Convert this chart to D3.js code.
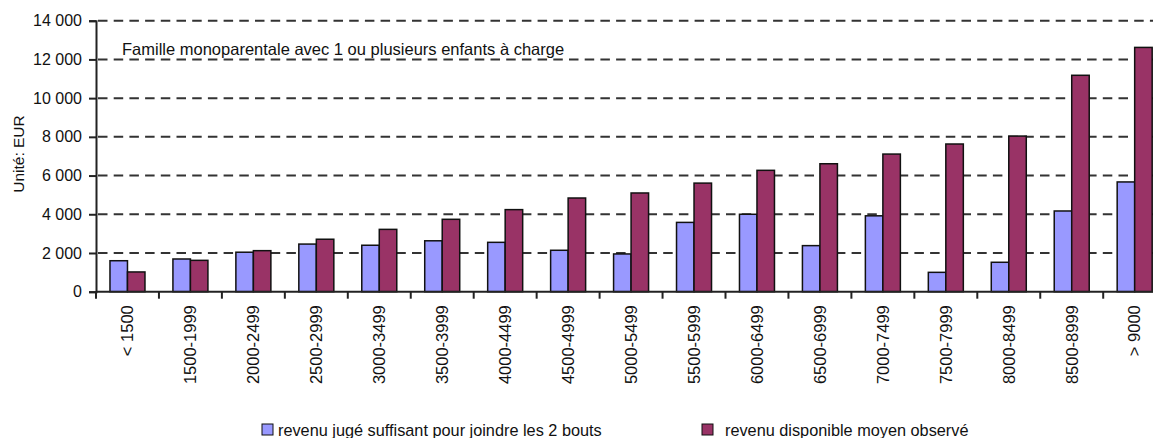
<!DOCTYPE html>
<html>
<head>
<meta charset="utf-8">
<script src="https://cdn.jsdelivr.net/npm/d3@7"></script>
<style>
body { margin: 0; background: #fff; }
svg { display: block; font-family: "Liberation Sans", Arial, sans-serif; }
</style>
</head>
<body>
<div id="chart"></div>
<script>
// tranches de revenu (axe x)
var categories = ["< 1500", "1500-1999", "2000-2499", "2500-2999", "3000-3499", "3500-3999",
    "4000-4499", "4500-4999", "5000-5499", "5500-5999", "6000-6499", "6500-6999",
    "7000-7499", "7500-7999", "8000-8499", "8500-8999", "> 9000"];

var seriesNames = ["revenu jugé suffisant pour joindre les 2 bouts", "revenu disponible moyen observé"];

// valeurs (EUR)
var revenuSuffisant = [1600, 1690, 2040, 2460, 2400, 2630, 2550, 2140, 1950, 3580, 4000, 2380, 3920, 1000, 1520, 4170, 5670];
var revenuObserve = [1020, 1620, 2120, 2710, 3220, 3740, 4240, 4840, 5100, 5610, 6270, 6610, 7110, 7630, 8040, 11180, 12620];

var yTicks = [0, 2000, 4000, 6000, 8000, 10000, 12000, 14000];

var colors = ["#9999ff", "#993366"];

var margin = {top: 20.7, left: 96},
    bandW = 62.95,
    width = bandW * categories.length,
    height = 271;

var rows = categories.map(function (c, i) {
    return {cat: c, values: [revenuSuffisant[i], revenuObserve[i]]};
});

// le graphique original est coupé à droite
var svg = d3.select("#chart")
    .append("svg")
    .attr("width", 1153)
    .attr("height", 438);

var g = svg.append("g")
    .attr("transform", "translate(" + margin.left + "," + margin.top + ")");

var x = d3.scaleBand()
    .domain(categories)
    .range([0, width])
    .padding(0);

var x1 = d3.scaleBand()
    .domain([0, 1])
    .range([bandW * 0.222, bandW * 0.778])
    .padding(0);

var y = d3.scaleLinear()
    .domain([0, 14000])
    .range([height, 0]);

var fmt = d3.formatLocale({decimal: ",", thousands: " ", grouping: [3], currency: ["", "€"]}).format(",");

// lignes de grille en tirets
g.selectAll(".grid")
    .data(yTicks.filter(function (d) { return d > 0; }))
    .enter()
    .append("line")
    .attr("x1", 2)
    .attr("x2", width)
    .attr("y1", function (d) { return y(d); })
    .attr("y2", function (d) { return y(d); })
    .attr("stroke", "#333")
    .attr("stroke-width", 2)
    .attr("stroke-dasharray", "9.5,6.2");

// barres
var groups = g.selectAll(".grp")
    .data(rows)
    .enter()
    .append("g")
    .attr("transform", function (d) { return "translate(" + x(d.cat) + ",0)"; });

groups.selectAll("rect")
    .data(function (d) { return d.values; })
    .enter()
    .append("rect")
    .attr("x", function (d, i) { return x1(i); })
    .attr("y", function (d) { return y(d); })
    .attr("width", x1.bandwidth())
    .attr("height", function (d) { return height - y(d); })
    .attr("fill", function (d, i) { return colors[i]; })
    .attr("stroke", "#111")
    .attr("stroke-width", 1.5);

// axe y
var yAxis = g.append("g")
    .call(d3.axisLeft(y).tickValues(yTicks).tickSize(7).tickPadding(7).tickFormat(fmt));
yAxis.select(".domain").attr("stroke", "#222").attr("stroke-width", 2);
yAxis.selectAll(".tick line").attr("stroke", "#222").attr("stroke-width", 2);
yAxis.selectAll("text").attr("font-size", 16).attr("fill", "#111");

// axe x : traits entre les tranches
var xAxis = g.append("g")
    .attr("transform", "translate(0," + height + ")");
xAxis.append("line")
    .attr("x1", 0).attr("x2", width)
    .attr("stroke", "#222").attr("stroke-width", 2);
xAxis.selectAll(".xt")
    .data(d3.range(categories.length + 1))
    .enter()
    .append("line")
    .attr("x1", function (k) { return k * x.step(); })
    .attr("x2", function (k) { return k * x.step(); })
    .attr("y1", 0).attr("y2", 7)
    .attr("stroke", "#222").attr("stroke-width", 2);
xAxis.selectAll(".xl")
    .data(categories)
    .enter()
    .append("text")
    .attr("transform", function (d) {
        return "translate(" + (x(d) + x.bandwidth() / 2) + ",13.5) rotate(-90)";
    })
    .attr("text-anchor", "end")
    .attr("dy", "0.35em")
    .attr("font-size", 16.5)
    .attr("fill", "#111")
    .text(function (d) { return d; });

// titre d'axe
svg.append("text")
    .attr("transform", "translate(24,154) rotate(-90)")
    .attr("text-anchor", "middle")
    .attr("font-size", 15.5)
    .attr("fill", "#111")
    .text("Unité: EUR");

// sous-titre dans la zone du graphique
svg.append("text")
    .attr("x", 122)
    .attr("y", 55)
    .attr("font-size", 16.5)
    .attr("fill", "#111")
    .text("Famille monoparentale avec 1 ou plusieurs enfants à charge");

// légende
var legX = [262, 702];
var leg = svg.selectAll(".leg")
    .data(seriesNames)
    .enter()
    .append("g")
    .attr("transform", function (d, i) { return "translate(" + legX[i] + ",424)"; });
leg.append("rect")
    .attr("width", 11).attr("height", 11)
    .attr("fill", function (d, i) { return colors[i]; })
    .attr("stroke", "#111").attr("stroke-width", 1);
leg.append("text")
    .attr("x", function (d, i) { return i === 0 ? 16 : 23; })
    .attr("y", 11.5)
    .attr("font-size", 16.3)
    .attr("fill", "#111")
    .text(function (d) { return d; });
</script>
</body>
</html>
